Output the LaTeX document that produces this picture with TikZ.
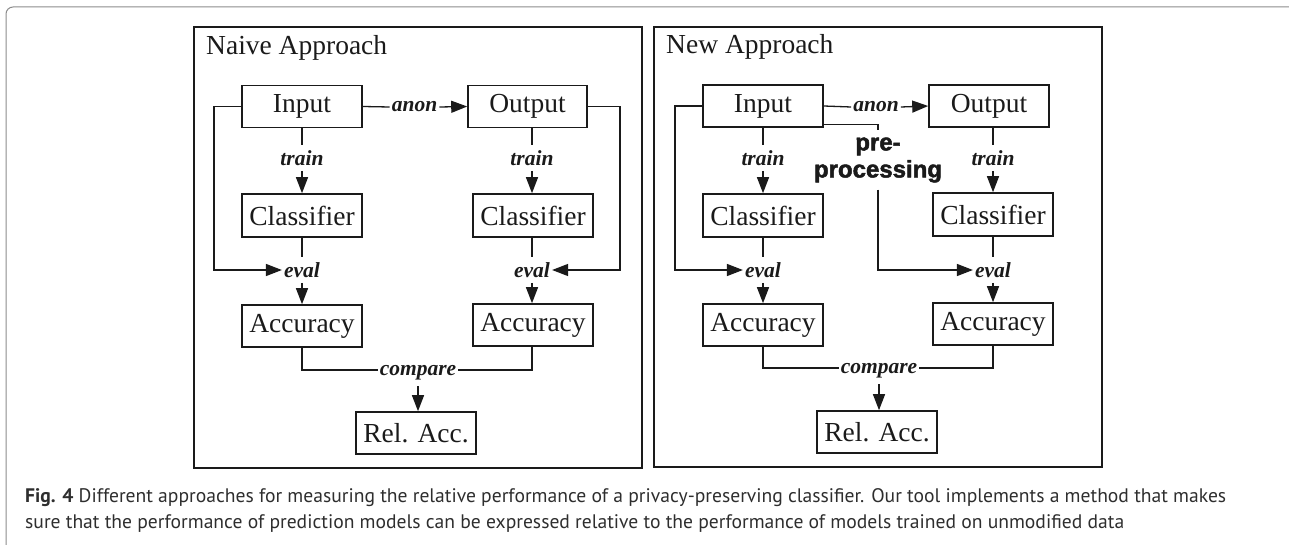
\documentclass[tikz,border=0pt]{standalone}
\usepackage{fontspec}
\setmainfont{Liberation Serif}
\newfontfamily\capfont{PT Sans}
\newfontfamily\prefont[BoldFeatures={FakeBold=2}]{Liberation Sans}
\usetikzlibrary{arrows.meta,calc}
\definecolor{ink}{HTML}{1A1A1A}
\definecolor{frameGray}{HTML}{8C8C8C}
\definecolor{capText}{HTML}{2E2E2E}
\tikzset{
 box/.style={draw=ink, line width=1.6pt, minimum width=120pt, minimum height=42pt, inner sep=0pt, font=\fontsize{27.5}{30}\selectfont, text=ink},
 lab/.style={font=\fontsize{21.5}{24}\selectfont\bfseries\itshape, inner xsep=2pt, inner ysep=5pt, text=ink},
 cmp/.style={lab, text depth=0pt, inner ysep=11pt},
 conn/.style={draw=ink, line width=1.3pt},
 arr/.style={conn, -{Triangle[length=16pt,width=12pt]}},
 panel/.style={draw=ink, line width=1.6pt},
 ttl/.style={font=\fontsize{27.5}{30}\selectfont, anchor=base west, inner sep=0pt, text=ink},
 pre/.style={font=\prefont\bfseries\fontsize{24}{27}\selectfont, align=center, inner xsep=2pt, inner ysep=7pt, text=ink},
}
\begin{document}
\begin{tikzpicture}[x=1pt,y=-1pt]
\useasboundingbox (0,0) rectangle (1289,545);
% outer page frame
\draw[frameGray, line width=1pt, rounded corners=7pt] (6,545) -- (6,7) -- (1289,7);

% ---------- Naive approach ----------
\draw[panel] (194,27) rectangle (642,468);
\node[ttl] (t1) at (206,55) {Naive Approach};
\node[box] (InL) at (302,106.5) {Input};
\node[box, minimum width=119pt] (OutL) at (527.5,106.5) {Output};
\node[box, minimum height=43pt] (ClL) at (302,215.5) {Classifier};
\node[box, minimum height=43pt] (ClR) at (533,215.5) {Classifier};
\node[box] (AcL) at (302,326) {Accuracy};
\node[box] (AcR) at (533,325) {Accuracy};
\node[box] (RelL) at (416,433) {Rel. Acc.};
\node[lab] (anonL) at (414.5,107) {anon};
\node[lab] (trainL) at (302,158) {train};
\node[lab] (trainR) at (532,158) {train};
\node[lab] (evalL) at (302,270) {eval};
\node[lab] (evalR) at (532,270) {eval};
\node[cmp] (compareL) at (418,370) {compare};
\coordinate (loopL) at (214,0);
\coordinate (loopR) at (620,0);

\draw[conn] (InL.east) -- (anonL.west);
\draw[arr] (anonL.east) -- (OutL.west);
\draw[conn] (InL.south) -- (trainL.north);
\draw[arr] (trainL.south) -- (ClL.north);
\draw[conn] (trainR |- OutL.south) -- (trainR.north);
\draw[arr] (trainR.south) -- (trainR.south |- ClR.north);
\draw[conn] (evalL |- ClL.south) -- (evalL.north);
\draw[arr] (evalL.south) -- (AcL.north);
\draw[conn] (evalR |- ClR.south) -- (evalR.north);
\draw[arr] (evalR.south) -- (evalR.south |- AcR.north);
\draw[arr] (InL.west) -- (InL.west -| loopL) |- (evalL.west);
\draw[arr] (OutL.east) -- (OutL.east -| loopR) |- (evalR.east);
\draw[conn] (AcL.south) |- (compareL.west);
\draw[conn] (evalR |- AcR.south) |- (compareL.east);
\draw[arr] (compareL.south) -- (compareL.south |- RelL.north);

% ---------- New approach ----------
\draw[panel] (654,27) rectangle (1102,467);
\node[ttl] (t2) at (666,54) {New Approach};
\node[box] (InR) at (763,106) {Input};
\node[box] (OutR) at (989,106) {Output};
\node[box, minimum height=43pt] (ClL2) at (763,215.5) {Classifier};
\node[box, minimum height=43pt] (ClR2) at (993,214.5) {Classifier};
\node[box] (AcL2) at (763,325) {Accuracy};
\node[box] (AcR2) at (993,324) {Accuracy};
\node[box] (RelR) at (877,432) {Rel. Acc.};
\node[lab] (anonR) at (876,107) {anon};
\node[lab] (trainL2) at (763,158) {train};
\node[lab] (trainR2) at (993,158) {train};
\node[lab] (evalL2) at (763,270) {eval};
\node[lab] (evalR2) at (993,270) {eval};
\node[cmp] (compareR) at (879,368) {compare};
\node[pre] (prep) at (878,160) {pre-\\processing};
\coordinate (loopL2) at (675,0);

\draw[conn] (InR.east) -- (anonR.west);
\draw[arr] (anonR.east) -- (OutR.west);
\draw[conn] (InR.south) -- (trainL2.north);
\draw[arr] (trainL2.south) -- (ClL2.north);
\draw[conn] (trainR2 |- OutR.south) -- (trainR2.north);
\draw[arr] (trainR2.south) -- (ClR2.north);
\draw[conn] (evalL2 |- ClL2.south) -- (evalL2.north);
\draw[arr] (evalL2.south) -- (AcL2.north);
\draw[conn] (ClR2.south) -- (evalR2.north);
\draw[arr] (evalR2.south) -- (AcR2.north);
\draw[arr] (InR.west) -- (InR.west -| loopL2) |- (evalL2.west);
\draw[conn] ($(InR.south east)+(0,-3)$) -| (prep.north);
\draw[arr] (prep.south) |- (evalR2.west);
\draw[conn] (AcL2.south) |- (compareR.west);
\draw[conn] (AcR2.south) |- (compareR.east);
\draw[arr] (compareR.south) -- (compareR.south |- RelR.north);

% ---------- caption ----------
\node[anchor=base west, align=left, inner sep=0pt, text=capText,
      font=\capfont\fontsize{19.6}{25.5}\selectfont] (cap) at (25,528)
 {\textbf{Fig. 4} Different approaches for measuring the relative performance of a privacy-preserving classifier. Our tool implements a method that makes\\
  sure that the performance of prediction models can be expressed relative to the performance of models trained on unmodified data};
\end{tikzpicture}
\end{document}
